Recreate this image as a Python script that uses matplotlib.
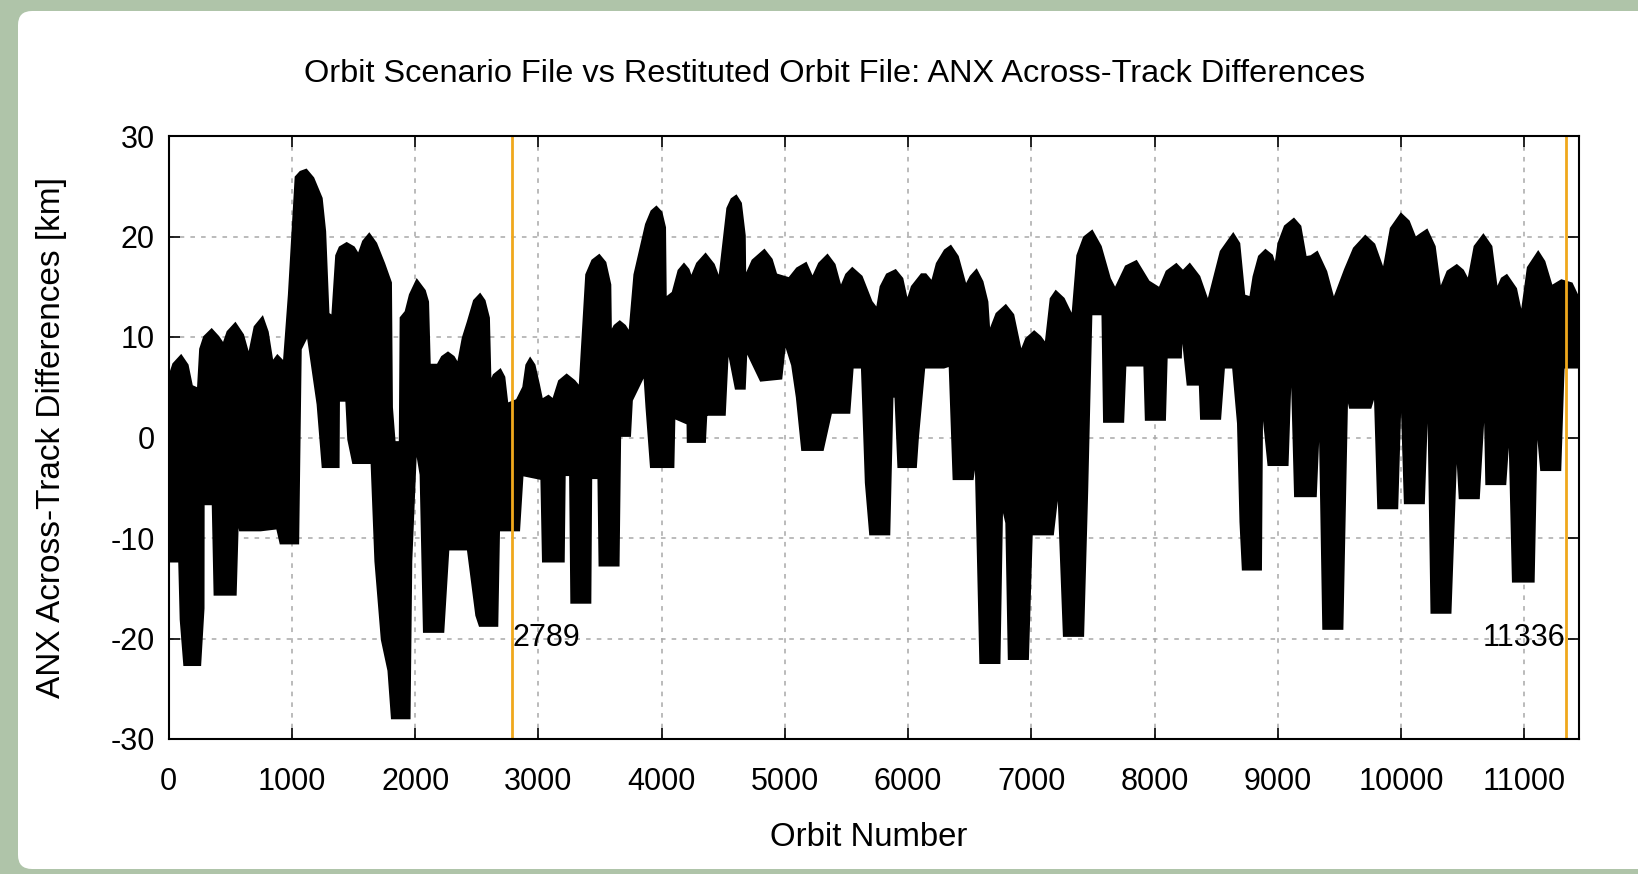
import matplotlib
matplotlib.use("Agg")
import matplotlib.pyplot as plt
from matplotlib.patches import FancyBboxPatch
from matplotlib.transforms import IdentityTransform

plt.rcParams['font.family'] = ['Liberation Sans', 'DejaVu Sans']
plt.rcParams['axes.unicode_minus'] = False

# upper edge of the point cloud (orbit, km)
upper_orbit = [0, 40, 100, 150, 185, 240, 258, 290, 348, 400, 444, 480, 540, 600, 650,
               700, 760, 800, 840, 882, 937, 978, 1033, 1070, 1115, 1170, 1238, 1266, 1293,
               1330, 1362, 1390, 1444, 1500, 1540, 1580, 1627, 1680, 1745, 1800, 1808,
               1830, 1878, 1885, 1925, 1960, 2014, 2075, 2101, 2115, 2184, 2220, 2266,
               2310, 2348, 2389, 2430, 2480, 2526, 2560, 2595, 2608, 2640, 2690, 2720,
               2745, 2827, 2880, 2905, 2933, 2965, 3000, 3027, 3081, 3121, 3170, 3229,
               3290, 3337, 3391, 3440, 3493, 3540, 3580, 3585, 3620, 3660, 3700, 3741,
               3782, 3876, 3920, 3957, 3995, 4024, 4030, 4092, 4140, 4181, 4215, 4240,
               4290, 4356, 4420, 4469, 4536, 4570, 4604, 4640, 4671, 4675, 4740, 4833,
               4890, 4927, 5035, 5100, 5170, 5224, 5280, 5345, 5400, 5453, 5500, 5547,
               5620, 5700, 5749, 5780, 5830, 5897, 5950, 5992, 6033, 6110, 6141, 6195,
               6236, 6300, 6345, 6400, 6467, 6510, 6554, 6600, 6640, 6657, 6720, 6792,
               6850, 6915, 6960, 7023, 7070, 7118, 7160, 7199, 7260, 7335, 7376, 7430,
               7492, 7560, 7634, 7680, 7769, 7851, 7950, 8041, 8100, 8176, 8230, 8285,
               8360, 8434, 8540, 8638, 8684, 8725, 8779, 8806, 8850, 8900, 8950, 8981,
               9008, 9060, 9130, 9180, 9224, 9270, 9318, 9390, 9453, 9548, 9620, 9710,
               9780, 9858, 9920, 10000, 10060, 10115, 10160, 10209, 10270, 10317, 10380,
               10452, 10500, 10547, 10600, 10668, 10730, 10776, 10820, 10857, 10930,
               10978, 11032, 11113, 11160, 11221, 11302, 11383, 11437, 11470]
upper_km = [5.8, 7.3, 8.1, 7.2, 5.1, 4.8, 8.8, 10.0, 10.7, 10.0, 9.2, 10.5, 11.3, 10.2, 8.0,
            11.0, 11.9, 10.5, 7.4, 8.1, 7.4, 14.2, 25.9, 26.4, 26.6, 25.8, 23.8, 20.5, 12.3,
            12.0, 18.1, 18.9, 19.3, 18.9, 18.1, 19.5, 20.2, 19.3, 17.3, 15.4, 3.0,
            -0.5, -0.5, 11.9, 12.5, 14.2, 15.6, 14.6, 13.5, 7.2, 7.2, 8.0, 8.4,
            8.0, 7.2, 9.9, 11.5, 13.6, 14.2, 13.6, 11.9, 5.3, 6.2, 6.7, 6.0,
            3.3, 3.7, 5.0, 7.2, 7.8, 7.2, 5.3, 3.7, 4.1, 3.7, 5.6, 6.2,
            5.6, 4.9, 16.2, 17.6, 18.1, 17.4, 15.2, 10.3, 11.1, 11.5, 11.1, 10.3,
            16.2, 21.2, 22.5, 22.9, 22.4, 20.9, 13.8, 14.4, 16.6, 17.2, 16.7, 15.8,
            17.3, 18.2, 17.2, 15.6, 22.8, 23.7, 24.0, 23.3, 20.1, 15.8, 17.6, 18.6,
            17.7, 16.2, 15.8, 16.8, 17.3, 15.8, 17.3, 18.1, 17.2, 14.8, 16.2, 16.8,
            16.0, 13.5, 12.7, 15.0, 16.2, 16.6, 15.8, 13.4, 15.0, 16.2, 16.2, 15.4,
            17.3, 18.6, 19.0, 18.0, 15.0, 16.0, 16.6, 15.5, 13.5, 10.3, 12.3, 13.1,
            12.2, 8.4, 9.8, 10.5, 10.0, 9.2, 13.8, 14.5, 13.8, 11.9, 18.1, 19.9,
            20.5, 19.0, 15.8, 14.7, 17.0, 17.5, 15.5, 14.8, 16.5, 17.2, 16.5, 17.2,
            16.0, 13.4, 18.5, 20.2, 19.3, 14.1, 13.9, 16.0, 18.0, 18.6, 18.1, 16.9,
            19.3, 21.0, 21.7, 21.0, 17.9, 18.0, 18.4, 16.5, 13.6, 16.7, 18.8, 20.0,
            19.2, 16.5, 20.8, 22.2, 21.5, 19.8, 20.2, 20.6, 19.0, 14.6, 16.5,
            17.1, 16.6, 15.5, 19.0, 20.1, 19.0, 14.6, 15.8, 16.1, 14.8,
            12.0, 16.9, 18.4, 17.5, 15.0, 15.6, 15.3, 13.9, 8.9]

# lower edge of the point cloud (orbit, km)
lower_orbit = [0, 88, 100, 129, 252, 279, 280, 360, 375, 540, 559, 581, 745, 882, 910,
               1047, 1068, 1129, 1211, 1252, 1375, 1378, 1444, 1460, 1499, 1649, 1680,
               1732, 1786, 1814, 1951, 1965, 2005, 2047, 2074, 2225, 2266, 2430, 2499,
               2526, 2663, 2677, 2840, 2868, 3027, 3040, 3202, 3210, 3260, 3270, 3418,
               3425, 3490, 3499, 3647, 3660, 3740, 3755, 3862, 3880, 3916, 4092, 4100,
               4213, 4215, 4348, 4360, 4375, 4509, 4536, 4604, 4671, 4685, 4806, 4968,
               5000, 5062, 5100, 5143, 5305, 5372, 5520, 5547, 5628, 5660, 5695, 5844,
               5870, 5900, 5924, 6060, 6075, 6128, 6290, 6340, 6372, 6521, 6550, 6589,
               6738, 6760, 6800, 6820, 6969, 7000, 7172, 7220, 7267, 7417, 7450, 7484,
               7580, 7593, 7742, 7760, 7920, 7932, 8081, 8095, 8210, 8220, 8271, 8370,
               8380, 8529, 8560, 8640, 8680, 8700, 8719, 8860, 8870, 8927, 9076, 9110,
               9143, 9305, 9340, 9372, 9521, 9560, 9588, 9750, 9790, 9818, 9966, 10000,
               10034, 10182, 10220, 10250, 10398, 10450, 10479, 10628, 10680, 10695,
               10843, 10880, 10911, 11073, 11100, 11140, 11289, 11316, 11437, 11470]
lower_km = [-12.3, -12.3, -18.1, -22.6, -22.6, -17.0, -6.6, -6.6, -15.6, -15.6, -7.6, -9.2, -9.2, -9.0, -10.5,
            -10.5, 8.8, 10.3, 3.3, -2.9, -2.9, 3.7, 3.7, -0.2, -2.5, -2.5, -12.3,
            -20.1, -23.2, -27.9, -27.9, -12.3, -0.6, -3.7, -19.3, -19.3, -11.1, -11.1, -17.7,
            -18.7, -18.7, -9.2, -9.2, -3.7, -4.1, -12.3, -12.3, -3.7, -3.7, -16.4, -16.4,
            -4.0, -4.0, -12.7, -12.7, 0.2, 0.2, 3.7, 6.4, 3.0, -2.9, -2.9, 2.0,
            1.4, -0.4, -0.4, 2.5, 2.3, 2.3, 9.2, 4.9, 4.9, 8.8, 5.7, 5.9,
            9.6, 7.2, 4.0, -1.2, -1.2, 2.5, 2.5, 7.0, 7.0, -4.5, -9.6, -9.6,
            4.1, 4.1, -2.9, -2.9, -0.2, 7.0, 7.0, 7.2, -4.1, -4.1, -1.5, -22.4,
            -22.4, -6.4, -8.5, -22.0, -22.0, -9.6, -9.6, -4.5, -19.7, -19.7, -5.3, 12.3,
            12.3, 1.6, 1.6, 7.2, 7.2, 1.8, 1.8, 8.0, 8.0, 11.3, 5.3, 5.3,
            1.9, 1.9, 7.0, 7.0, 1.4, -8.4, -13.1, -13.1, 4.2, -2.7, -2.7, 9.6,
            -5.8, -5.8, 4.2, -19.0, -19.0, 4.6, 3.0, 3.0, 4.6, -7.0, -7.0, 7.0,
            -6.5, -6.5, 7.0, -17.4, -17.4, 0.4, -6.0, -6.0, 5.1, -4.6,
            -4.6, 2.0, -14.3, -14.3, 2.3, -3.2, -3.2, 7.0, 7.0, 8.4]

marker_orbits = [2789, 11336]

W, H = 1638, 874
fig = plt.figure(figsize=(W / 100, H / 100), dpi=100, facecolor='#afc4a9')
fig.patches.append(FancyBboxPatch((18, 5), 1700, H - 11 - 5,
                                  boxstyle='round,pad=0,rounding_size=14',
                                  transform=IdentityTransform(), fc='white', ec='none',
                                  zorder=-5))

ax = fig.add_axes([168.75 / W, 1 - 739 / H, (1578.5 - 168.75) / W, (739 - 136) / H])
ax.set_facecolor('white')

poly_x = upper_orbit + lower_orbit[::-1]
poly_y = upper_km + lower_km[::-1]
ax.fill(poly_x, poly_y, color='black', lw=2.0, ec='black', zorder=3)

for orb in marker_orbits:
    ax.axvline(orb, color='#f0a81c', lw=2.0, zorder=4)
ax.text(marker_orbits[0], -20, '2789', ha='left', va='center', fontsize=22, zorder=5)
ax.text(marker_orbits[1], -20, '11336', ha='right', va='center', fontsize=22, zorder=5)

ax.set_xlim(0, 11440)
ax.set_ylim(-30, 30)
ax.set_xticks(range(0, 11001, 1000))
ax.set_yticks(range(-30, 31, 10))
ax.tick_params(direction='in', length=8, width=1.2, top=True, right=True,
               labelsize=22, colors='black')
ax.tick_params(axis='x', pad=20)
ax.tick_params(axis='y', pad=10)
ax.grid(True, color='#a8a8a8', linestyle=(0, (3, 4)), lw=1.1)
ax.set_axisbelow(True)
for s in ax.spines.values():
    s.set_linewidth(1.5)
    s.set_zorder(6)

fig.text(835 / W, 1 - 74 / H, 'Orbit Scenario File vs Restituted Orbit File: ANX Across-Track Differences',
         ha='center', va='center', fontsize=23.4)
fig.text(869 / W, 1 - 837 / H, 'Orbit Number', ha='center', va='center', fontsize=23.7)
fig.text(52 / W, 1 - 438 / H, 'ANX Across-Track Differences [km]', ha='center', va='center',
         rotation=90, fontsize=24)

fig.savefig('out.png', dpi=100, facecolor=fig.get_facecolor())
